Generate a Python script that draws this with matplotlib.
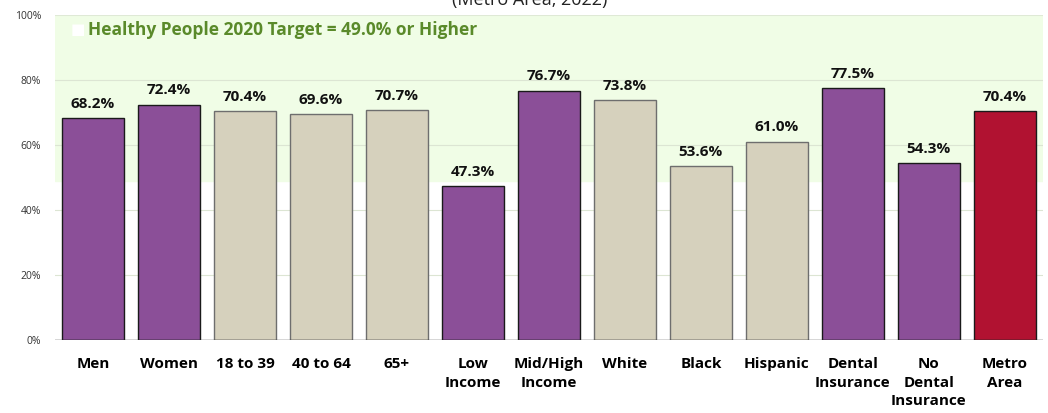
import matplotlib.pyplot as plt
import numpy as np
from matplotlib.ticker import PercentFormatter

plt.rcParams['font.family'] = ['Open Sans', 'DejaVu Sans']

categories = ['Men', 'Women', '18 to 39', '40 to 64', '65+', 'Low\nIncome',
              'Mid/High\nIncome', 'White', 'Black', 'Hispanic',
              'Dental\nInsurance', 'No\nDental\nInsurance', 'Metro\nArea']
values = [68.2, 72.4, 70.4, 69.6, 70.7, 47.3, 76.7, 73.8, 53.6, 61.0, 77.5, 54.3, 70.4]
groups = ['p', 'p', 'b', 'b', 'b', 'p', 'p', 'b', 'b', 'b', 'p', 'p', 'r']
target = 49.0

purple = '#8B4F98'
beige = '#D6D1BD'
red = '#B11231'
fill = {'p': purple, 'b': beige, 'r': red}
edge = {'p': '#1a1a1a', 'b': '#6e6e6e', 'r': '#1a1a1a'}

fig = plt.figure(figsize=(10.48, 4.13), dpi=100)
ax = fig.add_axes([0.0525, 0.177, 0.9425, 0.787])

x = np.arange(len(categories))
ax.axhspan(target, 100, color='#F0FDE6', zorder=0)
for yv in [20, 40, 60, 80]:
    ax.axhline(yv, color='#dce5d3', lw=0.8, zorder=1)
ax.axhline(100, color='#dfe9d6', lw=1.5, zorder=1)

for xi, v, g in zip(x, values, groups):
    ax.bar(xi, v, width=0.82, color=fill[g], edgecolor=edge[g], linewidth=1, zorder=2)
    ax.text(xi, v + 2.2, f'{v:.1f}%', ha='center', va='bottom', fontsize=11,
            fontweight='bold', color='#111111')

ax.axhline(0, color='#333333', lw=1, zorder=3)

ax.set_xlim(-0.5, len(categories) - 0.5)
ax.set_ylim(0, 100)
ax.set_yticks([0, 20, 40, 60, 80, 100])
ax.yaxis.set_major_formatter(PercentFormatter(decimals=0))
ax.set_xticks(x)
ax.set_xticklabels(categories, fontsize=11, fontweight='bold', linespacing=1.45, va='top')
ax.tick_params(axis='x', length=0, pad=12)
ax.tick_params(axis='y', length=0, labelsize=7.5, pad=10, labelcolor='#333333')
for s in ax.spines.values():
    s.set_visible(False)

ax.text(-0.2, 95.3, '\u25A0', color='white', fontsize=11, va='center', ha='center')
ax.text(-0.07, 95.3, 'Healthy People 2020 Target = 49.0% or Higher', color='#5A8A2A',
        fontsize=12.5, fontweight='bold', va='center', ha='left')

fig.text(0.505, 1.0, '(Metro Area, 2022)', ha='center', va='center', fontsize=13, color='#222222')

fig.savefig('out.png', dpi=100)
